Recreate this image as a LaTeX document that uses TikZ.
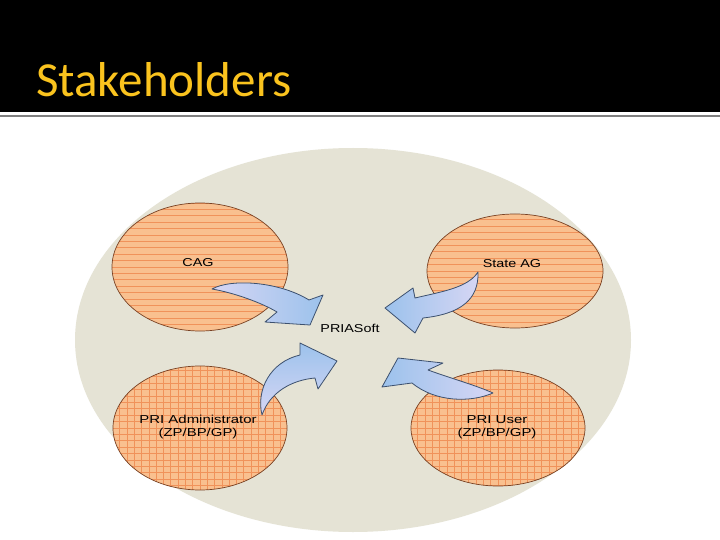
\documentclass[tikz,border=0pt]{standalone}
\usepackage{fontspec}
\setmainfont{Liberation Sans}
\newfontfamily\titlefont{Carlito}
\usetikzlibrary{shapes.geometric}
\definecolor{bgbeige}{RGB}{229,227,213}
\definecolor{ofill}{RGB}{249,192,143}
\definecolor{ogrid}{RGB}{240,146,90}
\definecolor{oline}{RGB}{120,65,35}
\definecolor{ablue}{RGB}{156,194,236}
\definecolor{atail}{RGB}{214,214,244}
\definecolor{aline}{RGB}{60,80,110}
\definecolor{gold}{RGB}{250,195,30}
\definecolor{rulegray}{RGB}{128,128,128}
\tikzset{
  stakeh/.style={ellipse, draw=oline, fill=ofill, line width=0.7pt, inner sep=0pt,
    path picture={\foreach \i in {-12,...,12}
      \draw[ogrid, line width=0.7pt] ([yshift=\i*6.4pt]path picture bounding box.west) -- ([yshift=\i*6.4pt]path picture bounding box.east);}},
  stakeg/.style={ellipse, draw=oline, fill=ofill, line width=0.7pt, inner sep=0pt,
    path picture={\foreach \i in {-12,...,12}
      \draw[ogrid, line width=0.7pt] ([yshift=\i*6.4pt]path picture bounding box.west) -- ([yshift=\i*6.4pt]path picture bounding box.east);
      \foreach \i in {-14,...,14}
      \draw[ogrid, line width=0.7pt] ([xshift=\i*7.3pt]path picture bounding box.north) -- ([xshift=\i*7.3pt]path picture bounding box.south);}},
  lbl/.style={font=\fontsize{11.5}{13}\selectfont, inner sep=1pt},
  barrow/.style={draw=aline, line width=0.8pt, line join=round},
}
\begin{document}
\begin{tikzpicture}[x=1pt,y=-1pt]
\useasboundingbox (0,0) rectangle (720,540);
\fill[white] (0,0) rectangle (720,540);
% title bar
\fill[black] (0,0) rectangle (720,112.5);
\fill[rulegray] (0,115) rectangle (720,117.5);
\node[anchor=base west, inner sep=0pt, text=gold, font=\titlefont\fontsize{49}{56}\selectfont] (title) at (36,97) {Stakeholders};
% background
\fill[bgbeige] (353,340) ellipse [x radius=278pt, y radius=192pt];
% stakeholder ellipses
\node[stakeh, minimum width=176pt, minimum height=128pt] (cag) at (200,267) {};
\node[stakeh, minimum width=176pt, minimum height=114pt] (sag) at (515,271) {};
\node[stakeg, minimum width=174pt, minimum height=124pt] (adm) at (200,428) {};
\node[stakeg, minimum width=174pt, minimum height=116pt] (usr) at (498,428) {};
% labels
\node[lbl] (cagt) at (198,263) {\scalebox{1.25}[1]{CAG}};
\node[lbl] (sagt) at (512,264) {\scalebox{1.25}[1]{State AG}};
\node[lbl] (admt) at (198,427) {\scalebox{1.3}[1]{\begin{tabular}{@{}c@{}}PRI Administrator\\(ZP/BP/GP)\end{tabular}}};
\node[lbl] (usrt) at (497,427) {\scalebox{1.3}[1]{\begin{tabular}{@{}c@{}}PRI User\\(ZP/BP/GP)\end{tabular}}};
\node[lbl] (pria) at (350,328) {\scalebox{1.25}[1]{PRIASoft}};
% curved block arrows
\shade[barrow, left color=atail, middle color=ablue, right color=ablue]
  (212,289) .. controls (232,278) and (280,282) .. (309,300) -- (323,295) -- (310,325) -- (265,322) -- (277,312)
  .. controls (262,303) and (235,293) .. (212,289) -- cycle;
\shade[barrow, left color=ablue, middle color=ablue, right color=atail]
  (478,272) .. controls (479,300) and (460,314) .. (423,318) -- (415,333) -- (385,308) -- (413,288) -- (415,298)
  .. controls (440,292) and (468,288) .. (478,272) -- cycle;
\shade[barrow, bottom color=atail, middle color=ablue, top color=ablue]
  (262,415) .. controls (256,390) and (270,362) .. (300,355) -- (300,343) -- (337,361) -- (318,389) -- (315,378)
  .. controls (292,380) and (270,392) .. (262,415) -- cycle;
\shade[barrow, left color=ablue, middle color=ablue, right color=atail]
  (398,358) -- (443,363) -- (428,370) .. controls (450,378) and (475,385) .. (493,393)
  .. controls (470,403) and (435,402) .. (412,383) -- (382,387) -- cycle;
\end{tikzpicture}
\end{document}
